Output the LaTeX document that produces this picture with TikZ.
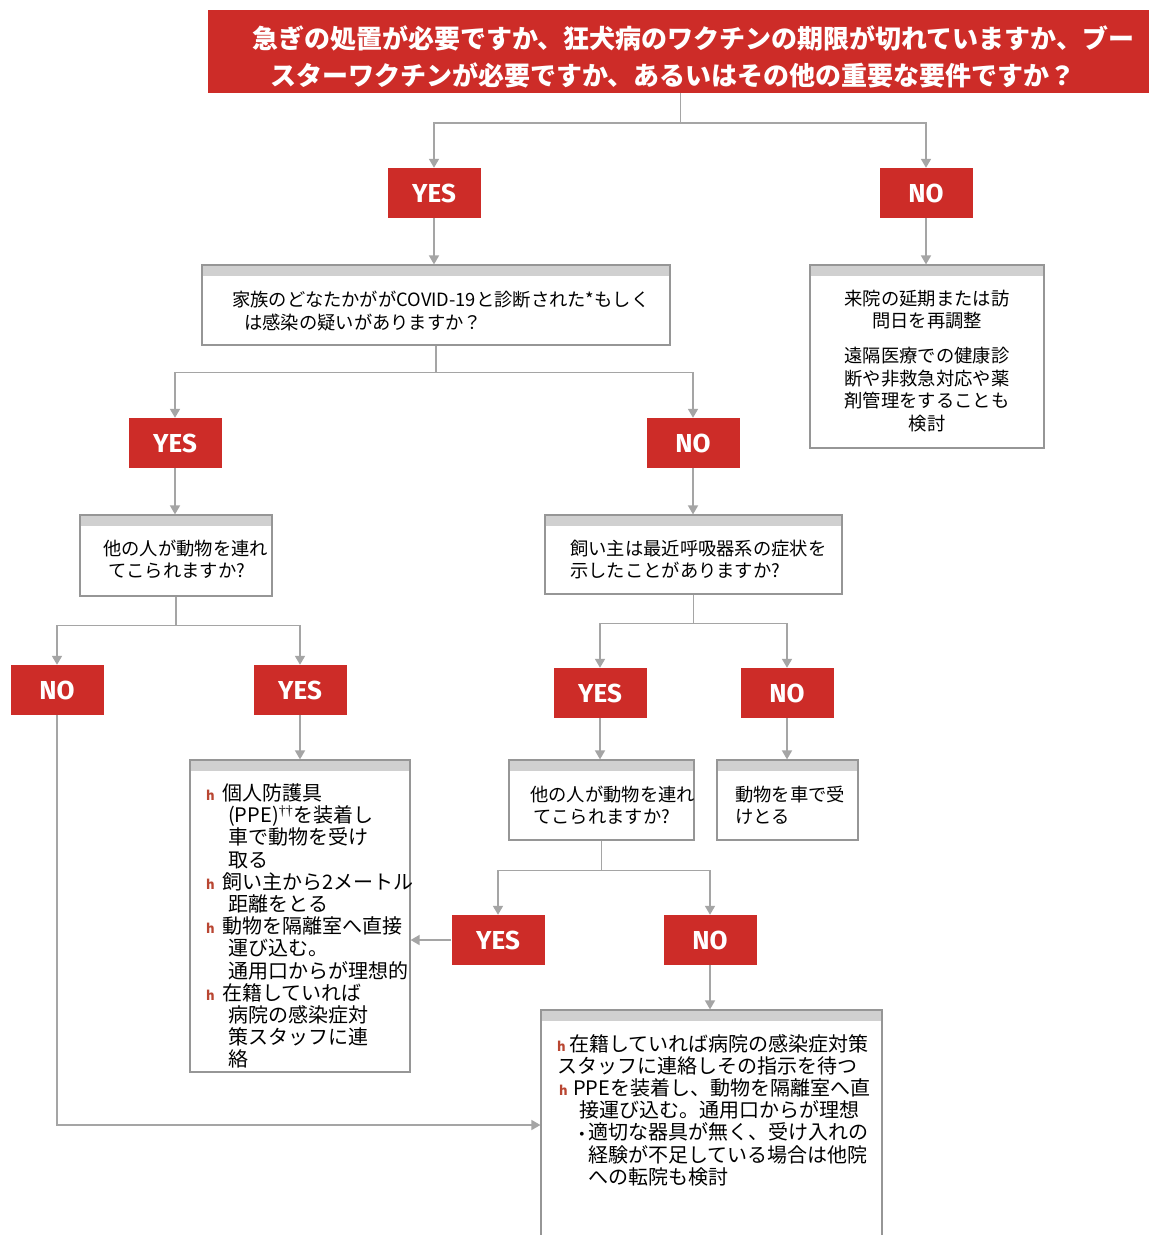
\documentclass[tikz,border=0pt]{standalone}
\usepackage{fontspec}
\setmainfont{Noto Sans CJK JP}
\newfontfamily\bodyfont{Noto Sans CJK JP}
\newfontfamily\lblfont{Fira Sans}
\newfontfamily\symfont{Liberation Serif}
\usetikzlibrary{arrows.meta}
\definecolor{redbox}{RGB}{205,44,40}
\definecolor{linegray}{RGB}{165,165,165}
\definecolor{boxgray}{RGB}{150,150,150}
\definecolor{bargray}{RGB}{208,208,208}
\definecolor{bulred}{RGB}{185,70,50}
\newcommand\bulh{{\color{bulred}\fontsize{13}{13}\selectfont\bfseries h}}
\begin{document}
\begin{tikzpicture}[x=1pt,y=-1pt,
  lbl/.style={fill=redbox, draw=none, minimum width=93pt, minimum height=50pt, inner sep=0pt, text=white, font=\lblfont\fontsize{26}{26}\selectfont\bfseries},
  qbox/.style 2 args={draw=boxgray, line width=1.2pt, fill=white, minimum width=#1, minimum height=#2, inner sep=0pt,
    path picture={\fill[bargray] (path picture bounding box.north west) rectangle ([yshift=-11pt]path picture bounding box.north east);}},
  conn/.style={draw=linegray, line width=1.6pt},
  arr/.style={conn, -{Triangle[width=10pt,length=9pt]}},
  txt/.style={anchor=west, inner sep=0pt, align=left, font=\bodyfont\fontsize{18.3}{22.5}\selectfont},
  btxt/.style={anchor=west, inner sep=0pt, align=left, font=\bodyfont\fontsize{20}{22.2}\selectfont},
]
\path[use as bounding box, fill=white] (0,0) rectangle (1149,1235);

% title
\node[fill=redbox, minimum width=945pt, minimum height=83pt, inner sep=0pt] (title) at (680.5,51.5) {};
\node[anchor=west, text=white, inner sep=0pt, font=\fontsize{26}{26}\selectfont\bfseries] (t1) at (252,38) {急ぎの処置が必要ですか、狂犬病のワクチンの期限が切れていますか、ブー};
\node[anchor=west, text=white, inner sep=0pt, font=\fontsize{26}{26}\selectfont\bfseries] (t2) at (270,75) {スターワクチンが必要ですか、あるいはその他の重要な要件ですか？};

% labels
\node[lbl] (yes1) at (434,193) {YES};
\node[lbl] (no1) at (926,193) {NO};
\node[lbl] (yes2) at (175,443) {YES};
\node[lbl] (no2) at (693,443) {NO};
\node[lbl] (no3) at (57,690) {NO};
\node[lbl] (yes3) at (300,690) {YES};
\node[lbl] (yes4) at (600,693) {YES};
\node[lbl] (no4) at (787,693) {NO};
\node[lbl] (yes5) at (498,940) {YES};
\node[lbl] (no5) at (710,940) {NO};

% boxes
\node[qbox={468pt}{80pt}] (q2) at (436,305) {};
\node[qbox={234pt}{183pt}] (r1) at (927,356.5) {};
\node[qbox={192pt}{81pt}] (q3l) at (176,555.5) {};
\node[qbox={297pt}{79pt}] (q3r) at (693.5,554.5) {};
\node[qbox={220pt}{312pt}] (a1) at (300,916) {};
\node[qbox={185pt}{80pt}] (q5) at (601.5,800) {};
\node[qbox={141pt}{80pt}] (a2) at (787.5,800) {};
\node[qbox={341pt}{230pt}] (a3) at (711.5,1125) {};

% texts
\node[txt] (q2t) at (232,311) {家族のどなたかががCOVID-19と診断された*もしく\\\hspace*{12pt}は感染の疑いがありますか？};
\node[txt, anchor=center, align=center] (r1t) at (927,361) {来院の延期または訪\\問日を再調整\\[12.5pt]遠隔医療での健康診\\断や非救急対応や薬\\剤管理をすることも\\検討};
\node[txt] (q3lt) at (103,559.5) {他の人が動物を連れ\\\hspace*{5pt}てこられますか?};
\node[txt] (q3rt) at (570,559.5) {飼い主は最近呼吸器系の症状を\\示したことがありますか?};
\node[txt] (q5t) at (530,805.5) {他の人が動物を連れ\\\hspace*{3pt}てこられますか?};
\node[txt] (a2t) at (735,805.5) {動物を車で受\\けとる};
\node[btxt] (a1t) at (206,926) {\makebox[16pt][l]{\bulh}個人防護具\\
\hspace*{22pt}(PPE)\textsuperscript{\symfont ††}を装着し\\
\hspace*{22pt}車で動物を受け\\
\hspace*{22pt}取る\\
\makebox[16pt][l]{\bulh}飼い主から2メートル\\
\hspace*{22pt}距離をとる\\
\makebox[16pt][l]{\bulh}動物を隔離室へ直接\\
\hspace*{22pt}運び込む。\\
\hspace*{22pt}通用口からが理想的\\
\makebox[16pt][l]{\bulh}在籍していれば\\
\hspace*{22pt}病院の感染症対\\
\hspace*{22pt}策スタッフに連\\
\hspace*{22pt}絡};
\node[btxt] (a3t) at (557,1110) {\makebox[12pt][l]{\bulh}在籍していれば病院の感染症対策\\
スタッフに連絡しその指示を待つ\\
\hspace*{2pt}\makebox[14pt][l]{\bulh}PPEを装着し、動物を隔離室へ直\\
\hspace*{22pt}接運び込む。通用口からが理想\\
\hspace*{22pt}\makebox[9pt][l]{\symfont\fontsize{16}{16}\selectfont•}適切な器具が無く、受け入れの\\
\hspace*{31pt}経験が不足している場合は他院\\
\hspace*{31pt}への転院も検討};

% connectors
\draw[conn] (title.south) -- ++(0,30) coordinate (j1);
\draw[arr] (j1) -| (yes1.north);
\draw[arr] (j1) -| (no1.north);
\draw[arr] (yes1.south) -- (yes1.south |- q2.north);
\draw[arr] (no1.south) -- (no1.south |- r1.north);
\draw[conn] (q2.south) -- ++(0,27) coordinate (j2);
\draw[arr] (j2) -| (yes2.north);
\draw[arr] (j2) -| (no2.north);
\draw[arr] (yes2.south) -- (yes2.south |- q3l.north);
\draw[arr] (no2.south) -- (no2.south |- q3r.north);
\draw[conn] (q3l.south) -- ++(0,29) coordinate (j3);
\draw[arr] (j3) -| (no3.north);
\draw[arr] (j3) -| (yes3.north);
\draw[conn] (q3r.south) -- ++(0,29) coordinate (j4);
\draw[arr] (j4) -| (yes4.north);
\draw[arr] (j4) -| (no4.north);
\draw[arr] (yes3.south) -- (yes3.south |- a1.north);
\draw[arr] (yes4.south) -- (yes4.south |- q5.north);
\draw[arr] (no4.south) -- (no4.south |- a2.north);
\draw[conn] (q5.south) -- ++(0,30) coordinate (j5);
\draw[arr] (j5) -| (yes5.north);
\draw[arr] (j5) -| (no5.north);
\draw[arr] (yes5.west) -- (yes5.west -| a1.east);
\draw[arr] (no5.south) -- (no5.south |- a3.north);
\draw[arr] (no3.south) |- (a3.west);
\end{tikzpicture}
\end{document}
